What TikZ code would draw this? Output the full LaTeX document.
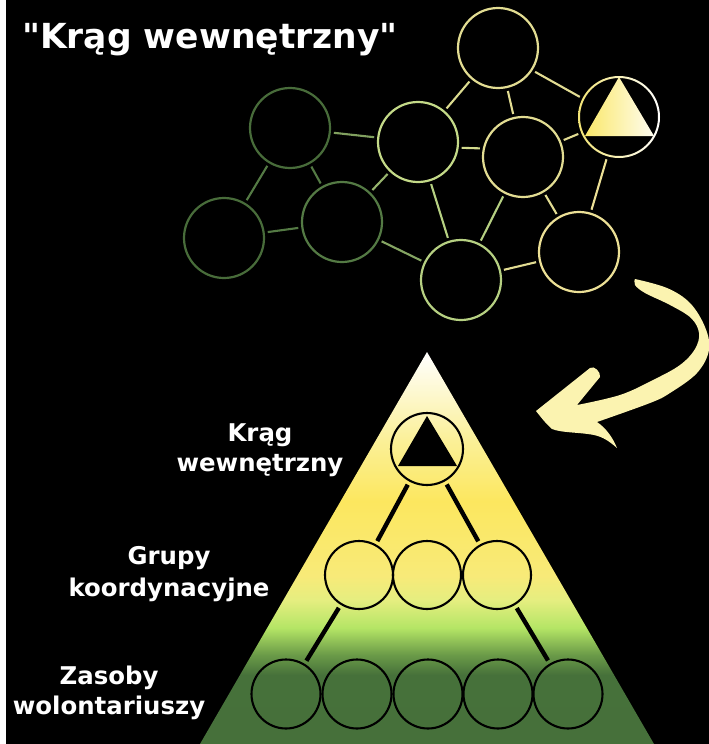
\documentclass[tikz,border=0pt]{standalone}
\usepackage{xcolor}
\usepackage{fontspec}
\setmainfont{DejaVu Sans}
\newfontfamily\headfont{DejaVu Sans}
\usetikzlibrary{shapes.geometric}
\definecolor{netdark}{RGB}{72,108,58}
\definecolor{netmoss}{RGB}{84,122,68}
\definecolor{netlime}{RGB}{196,218,136}
\definecolor{netpale}{RGB}{182,208,130}
\definecolor{netsand}{RGB}{226,220,146}
\definecolor{netcream}{RGB}{236,224,150}
\definecolor{arrowcream}{RGB}{251,243,176}
\definecolor{triyellow}{RGB}{250,232,106}
\pgfdeclareverticalshading{pyramidshade}{100bp}{
  rgb(0bp)=(0.275,0.439,0.227);
  rgb(25bp)=(0.275,0.439,0.227);
  rgb(33.8bp)=(0.275,0.443,0.227);
  rgb(36.35bp)=(0.416,0.604,0.282);
  rgb(39.8bp)=(0.706,0.898,0.396);
  rgb(43.35bp)=(0.898,0.933,0.502);
  rgb(46.5bp)=(0.973,0.918,0.471);
  rgb(56bp)=(0.988,0.906,0.373);
  rgb(63.75bp)=(0.984,0.941,0.596);
  rgb(75bp)=(1,1,1);
  rgb(100bp)=(1,1,1)}
\tikzset{
  netcirc/.style={circle, minimum size=80pt, inner sep=0pt, line width=2.2pt},
  netlink/.style={line width=2.1pt, shorten >=3pt, shorten <=3pt},
  rungthree/.style={circle, draw=black, line width=2.1pt, minimum size=68pt, inner sep=0pt},
  rungfive/.style={circle, draw=black, line width=2.1pt, minimum size=69pt, inner sep=0pt},
  stem/.style={black, line width=4.4pt, shorten >=3.5pt, shorten <=3.5pt},
  sidelabel/.style={white, align=center, font=\fontsize{24.4}{30}\selectfont\bfseries}
}
\begin{document}
\begin{tikzpicture}[x=1pt, y=-1pt]
  \useasboundingbox (0,0) rectangle (709,744);
  \fill[white] (0,0) rectangle (709,744);
  \fill[black] (6,0) rectangle (709,744);

  % heading
  \node[white, anchor=base west, inner sep=0pt, font=\headfont\fontsize{34.5}{40}\selectfont\bfseries] (heading) at (22,48) {"Krąg wewnętrzny"};

  % network
  \foreach \nm/\px/\py/\col in {neta/498/48/netsand, netc/523/157/netsand, netd/418/142/netlime, nete/290/128/netdark, netf/224/238/netdark, netg/342/222/netmoss, neth/461/280/netpale, neti/579/252/netcream}{
    \node[netcirc, draw=\col] (\nm) at (\px,\py) {};
  }
  \node[netcirc] (netb) at (619,117) {};
  \shade[even odd rule, left color=triyellow!70!netsand, right color=white] (netb) circle (41) (netb) circle (39);
  \shade[left color=triyellow, right color=white!90!triyellow] (619,77) -- (654,136) -- (585,136) -- cycle;

  \foreach \a/\b/\col in {neta/netd/netsand!80!netlime, neta.-33/netb.153/netsand, neta/netc/netsand, netb/netc/netsand, netc.168/netd.-8/netlime!50!netsand, netb/neti/netcream, netc/neti/netsand, netc/neth/netpale, neti/neth/netsand, netd/neth/netpale, netd/netg/netlime!60!netmoss, netd/nete/netmoss!60!netlime, nete/netg/netmoss, nete/netf/netmoss, netf/netg/netmoss, netg/neth/netmoss!50!netpale}{
    \draw[netlink, \col] (\a) -- (\b);
  }

  % curved arrow
  \fill[arrowcream] plot[smooth, tension=0.6] coordinates {(635,279) (667,288) (690,303) (705,327) (709,350) (697,373) (670,393) (650,403) (597,422)}
    .. controls (606,428) and (613,438) .. (617,448)
    .. controls (609,441) and (603,437) .. (594,435)
    .. controls (578,432) and (562,433) .. (552,429)
    .. controls (546,424) and (540,416) .. (536,411)
    -- (590,368) .. controls (594,365) and (601,372) .. (600,377)
    -- (577,405)
    -- plot[smooth, tension=0.6] coordinates {(577,405) (620,395) (653,380) (680,365) (695,349) (699,333) (691,318) (670,305) (645,293) (635,285) (635,279)}
    -- cycle;

  % pyramid
  \shade[shading=pyramidshade] (427,352) -- (654,744) -- (200,744) -- cycle;
  \node[rungthree, minimum size=72pt] (core) at (427,449) {};
  \fill[black] (427,416) -- (457,466) -- (398,466) -- cycle;
  \foreach \nm/\px in {grpa/359, grpb/427, grpc/497}{
    \node[rungthree] (\nm) at (\px,575) {};
  }
  \foreach \nm/\px in {vola/286, volb/357, volc/428, vold/498, vole/568}{
    \node[rungfive] (\nm) at (\px,694) {};
  }
  \draw[stem] (core) -- (grpa);
  \draw[stem] (core) -- (grpc);
  \draw[stem] (grpa) -- (vola);
  \draw[stem] (grpc) -- (vole);

  % labels
  \node[sidelabel] (lblcore) at (260,450) {Krąg\\wewnętrzny};
  \node[sidelabel] (lblgrp) at (169,574) {Grupy\\[2pt]koordynacyjne};
  \node[sidelabel] (lblvol) at (109,693) {Zasoby\\wolontariuszy};
\end{tikzpicture}
\end{document}
